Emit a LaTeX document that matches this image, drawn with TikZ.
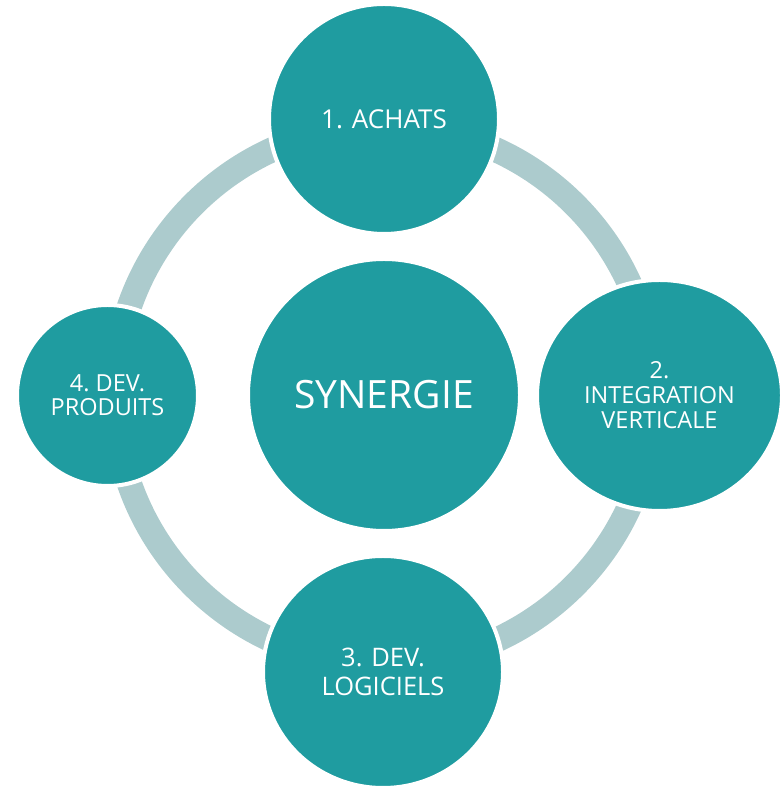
\documentclass[tikz,border=0pt]{standalone}
\usepackage{fontspec}
\setmainfont{Open Sans}
\usetikzlibrary{shapes.geometric}
\definecolor{teal1}{HTML}{1F9CA0}
\definecolor{ringc}{HTML}{ACCBCD}
\begin{document}
\begin{tikzpicture}[x=1pt,y=1pt,
  bubble/.style={circle,fill=teal1,draw=white,line width=4pt,inner sep=0pt,
    text=white,align=center},
  oval/.style={ellipse,fill=teal1,draw=white,line width=4pt,inner sep=0pt,
    text=white,align=center}]
\useasboundingbox (0,0) rectangle (782,786);
\coordinate (hub) at (384,391);
\draw[ringc,line width=25pt] (hub) circle[radius=269.5];
\node[bubble,minimum size=230pt,font=\fontsize{26}{29}\selectfont] (achats) at (384,667) {1. ACHATS};
\node[oval,minimum width=245pt,minimum height=231pt,font=\fontsize{23.5}{25}\selectfont] (integ) at (659.5,390.5) {2.\\INTEGRATION\\VERTICALE};
\node[oval,minimum width=240pt,minimum height=232pt,font=\fontsize{25.5}{29}\selectfont] (logi) at (383,114) {3. DEV.\\LOGICIELS};
\node[bubble,minimum size=181pt,font=\fontsize{23.5}{24}\selectfont] (prod) at (107.5,390.5) {4.~DEV.\\PRODUITS};
\node[bubble,minimum size=272pt,font=\fontsize{39}{42}\selectfont] (syn) at (hub) {SYNERGIE};
\end{tikzpicture}
\end{document}
